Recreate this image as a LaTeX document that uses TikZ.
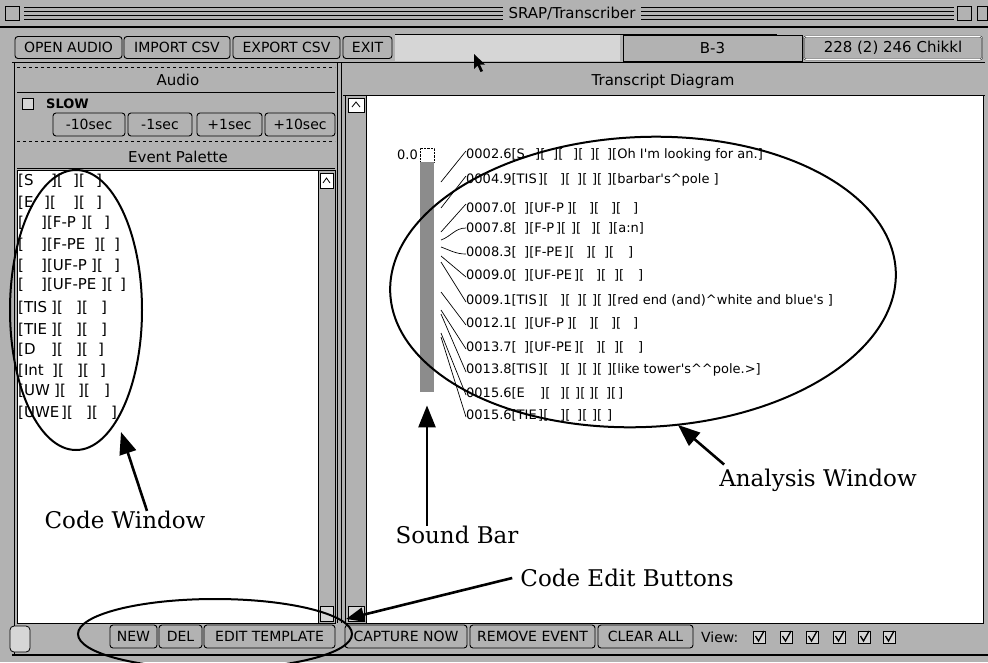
\documentclass[tikz,border=0pt]{standalone}
\usepackage{fontspec}
\setmainfont{DejaVu Serif}
\newfontfamily\uifont{DejaVu Sans}
\usetikzlibrary{arrows.meta}
\definecolor{stip}{gray}{0.70}
\definecolor{stipl}{gray}{0.84}
\definecolor{barc}{gray}{0.55}
\newcommand\tf[2]{\makebox[#1pt][l]{#2}}
\begin{document}
\begin{tikzpicture}[x=1pt,y=-1pt,
  btn/.style={draw, rounded corners=3pt, fill=stip, line width=0.9pt, inner sep=0pt, font=\uifont\fontsize{14}{16}\selectfont},
  hdr/.style={font=\uifont\fontsize{15}{17}\selectfont},
  pal/.style={anchor=west, inner sep=0pt, font=\uifont\fontsize{15}{17}\selectfont},
  trs/.style={anchor=west, inner sep=0pt, font=\uifont\fontsize{13}{15}\selectfont},
  lbl/.style={font=\fontsize{23}{26}\selectfont, inner sep=0pt},
  bigarr/.style={line width=2.6pt, -{Triangle[length=22pt,width=17pt]}},
  conn/.style={line width=0.7pt},
  oval/.style={line width=2pt},
  cbox/.style={draw, fill=stipl, minimum size=12pt, inner sep=0pt, line width=0.8pt}
]
\useasboundingbox (0,0) rectangle (988,662);
\fill[stip] (0,0) rectangle (988,662);

% title bar
\foreach \yy in {7,11,15,19} \draw[line width=0.8pt] (24,\yy) -- (954,\yy);
\node[fill=stip, inner xsep=6pt, inner ysep=2pt, hdr] (title) at (572,13) {SRAP/Transcriber};
\node[draw, line width=0.8pt, minimum size=14pt, inner sep=0pt] (closebox) at (12.5,13) {};
\node[draw, line width=0.8pt, minimum size=14pt, inner sep=0pt] (zoombox) at (964.5,13) {};
\node[draw, line width=0.8pt, minimum width=10pt, minimum height=14pt, inner sep=0pt] (collbox) at (982,13) {};
\draw[line width=1.5pt] (0,27) -- (988,27);

% toolbar
\node[btn, minimum width=107pt, minimum height=22pt] (openaudio) at (68.5,47.5) {OPEN AUDIO};
\node[btn, minimum width=106pt, minimum height=22pt] (importcsv) at (177,47.5) {IMPORT CSV};
\node[btn, minimum width=107pt, minimum height=22pt] (exportcsv) at (286.5,47.5) {EXPORT CSV};
\node[btn, minimum width=49pt, minimum height=22pt] (exitb) at (367.5,47.5) {EXIT};
\fill[stipl] (395,35) rectangle (620,61);
\draw[line width=0.8pt] (395,34) -- (777,34);
\node[draw, minimum width=179pt, minimum height=26pt, inner sep=0pt, hdr] (fieldb) at (712.5,48) {B-3};
\node[draw, double, rounded corners=2pt, minimum width=178pt, minimum height=23pt, inner sep=0pt, hdr] (fieldc) at (893,48) {228 (2) 246 Chikkl};
\fill (474,54) -- (474,69) -- (477.5,65.5) -- (480.5,72) -- (483,71) -- (480,64.5) -- (485,64.5) -- cycle;
\draw[line width=1pt] (12,62) -- (985,62);

% left panel
\draw[line width=1pt] (14,62) -- (14,655);
\draw[dashed] (17,67) -- (335,67);
\draw[line width=1pt] (17,92) -- (335,92);
\node[hdr] (audio) at (178,80) {Audio};
\node[cbox, minimum size=11pt] (slowbox) at (27.5,103.5) {};
\node[anchor=west, inner sep=0pt, font=\uifont\bfseries\fontsize{13}{15}\selectfont] (slow) at (46,104) {SLOW};
\node[btn, minimum width=72pt, minimum height=23pt] (m10) at (89,124.5) {-10sec};
\node[btn, minimum width=64pt, minimum height=23pt] (m1) at (160,124.5) {-1sec};
\node[btn, minimum width=65pt, minimum height=23pt] (p1) at (229.5,124.5) {+1sec};
\node[btn, minimum width=70pt, minimum height=23pt] (p10) at (300,124.5) {+10sec};
\draw[dashed] (17,141) -- (335,141);
\draw[line width=0.6pt] (17,168) -- (335,168);
\node[hdr] (evpal) at (178,157) {Event Palette};
\filldraw[fill=white, line width=0.8pt] (17,170) rectangle (318,623);
\filldraw[fill=stip, line width=0.8pt] (318,170) rectangle (335,623);
\filldraw[fill=white, line width=0.6pt] (320,173) rectangle (333,188);
\draw[line width=0.8pt] (323,183) -- (326.5,178) -- (330,183);
\filldraw[fill=stipl, line width=0.6pt] (320,606) rectangle (333,621);

% palette entries
\node[pal] (pa1) at (18,181) {\tf{33}{[S}\tf{22}{][}\tf{23}{][}]};
\node[pal] (pa2) at (18,203) {\tf{26}{[E}\tf{29}{][}\tf{23}{][}]};
\node[pal] (pa3) at (18,223) {\tf{23}{[}\tf{40}{][F-P}\tf{23}{][}]};
\node[pal] (pa4) at (18,245) {\tf{23}{[}\tf{53}{][F-PE}\tf{20}{][}]};
\node[pal] (pa5) at (18,266) {\tf{23}{[}\tf{50}{][UF-P}\tf{23}{][}]};
\node[pal] (pa6) at (18,285) {\tf{23}{[}\tf{60}{][UF-PE}\tf{19}{][}]};
\node[pal] (pa7) at (18,308) {\tf{33}{[TIS}\tf{25}{][}\tf{25}{][}]};
\node[pal] (pa8) at (18,330) {\tf{33}{[TIE}\tf{25}{][}\tf{25}{][}]};
\node[pal] (pa9) at (18,350) {\tf{33}{[D}\tf{25}{][}\tf{22}{][}]};
\node[pal] (pa10) at (18,371) {\tf{34}{[Int}\tf{25}{][}\tf{23}{][}]};
\node[pal] (pa11) at (18,391) {\tf{36}{[UW}\tf{24}{][}\tf{26}{][}]};
\node[pal] (pa12) at (18,413) {\tf{43}{[UWE}\tf{25}{][}\tf{25}{][}]};

% divider
\draw (337,62) -- (337,623);
\draw (341,62) -- (341,623);

% right panel
\draw[line width=0.8pt] (343,95) -- (985,95);
\node[hdr] (tdiag) at (663,81) {Transcript Diagram};
\filldraw[fill=white, line width=0.8pt] (366,95) rectangle (983,623);
\filldraw[fill=stip, line width=0.8pt] (345,95) rectangle (366,623);
\filldraw[fill=white, line width=0.6pt] (348,98) rectangle (364,112);
\draw[line width=0.8pt] (352,107) -- (356,102) -- (360,107);
\filldraw[fill=stipl, line width=0.6pt] (348,606) rectangle (364,621);

% bottom bar
\draw[line width=1.2pt] (12,655) -- (988,655);
\node[draw, rounded corners=4pt, fill=stipl, minimum width=20pt, minimum height=26pt, inner sep=0pt, line width=0.8pt] (grow) at (20,639) {};
\node[btn, minimum width=47pt, minimum height=23pt] (newb) at (133.5,636.5) {NEW};
\node[btn, minimum width=43pt, minimum height=23pt] (delb) at (180.5,636.5) {DEL};
\node[btn, minimum width=131pt, minimum height=23pt] (editb) at (269.5,636.5) {EDIT TEMPLATE};
\node[btn, minimum width=122pt, minimum height=23pt] (captb) at (406,636.5) {CAPTURE NOW};
\node[btn, minimum width=125pt, minimum height=23pt] (remb) at (532.5,636.5) {REMOVE EVENT};
\node[btn, minimum width=95pt, minimum height=23pt] (clrb) at (645.5,636.5) {CLEAR ALL};
\node[anchor=west, inner sep=0pt, font=\uifont\fontsize{14}{16}\selectfont] (view) at (701,637) {View:};
\foreach \cx [count=\i] in {753,780,806,833,858,883} {
  \node[cbox] (cb\i) at (\cx+6,637) {};
  \draw[line width=1.3pt] (\cx+2.5,636) -- (\cx+5.5,641) -- (\cx+11,631);
}

% sound bar
\node[draw, densely dotted, fill=white, minimum width=14pt, minimum height=14pt, inner sep=0pt] (bartop) at (427,155) {};
\node[fill=barc, minimum width=14pt, minimum height=230pt, inner sep=0pt, anchor=north] (sbar) at (427,162) {};
\node[trs, anchor=east] (zero) at (418,155) {0.0};

% transcript lines
\node[trs] (t1) at (466,155) {\tf{69}{0002.6[S}\tf{18}{][}\tf{20}{][}\tf{17}{][}\tf{17}{][}][Oh I'm looking for an.]};
\node[trs] (t2) at (466,180) {\tf{72}{0004.9[TIS}\tf{22}{][}\tf{17}{][}\tf{15}{][}\tf{15}{][}][barbar's\textasciicircum pole ]};
\node[trs] (t3) at (466,208) {\tf{58}{0007.0[}\tf{43}{][UF-P}\tf{22}{][}\tf{22}{][}\tf{22}{][}]};
\node[trs] (t4) at (466,228) {\tf{58}{0007.8[}\tf{32}{][F-P}\tf{15}{][}\tf{20}{][}\tf{17}{][}][a:n]};
\node[trs] (t5) at (466,252) {\tf{58}{0008.3[}\tf{40}{][F-PE}\tf{22}{][}\tf{18}{][}\tf{24}{][}]};
\node[trs] (t6) at (466,275) {\tf{58}{0009.0[}\tf{50}{][UF-PE}\tf{22}{][}\tf{18}{][}\tf{24}{][}]};
\node[trs] (t7) at (466,300) {\tf{72}{0009.1[TIS}\tf{22}{][}\tf{17}{][}\tf{15}{][}\tf{15}{][}][red end (and)\textasciicircum white and blue's ]};
\node[trs] (t8) at (466,323) {\tf{58}{0012.1[}\tf{43}{][UF-P}\tf{22}{][}\tf{22}{][}\tf{22}{][}]};
\node[trs] (t9) at (466,347) {\tf{58}{0013.7[}\tf{50}{][UF-PE}\tf{22}{][}\tf{18}{][}\tf{24}{][}]};
\node[trs] (t10) at (466,370) {\tf{72}{0013.8[TIS}\tf{22}{][}\tf{17}{][}\tf{15}{][}\tf{15}{][}][like tower's\textasciicircum\textasciicircum pole.>]};
\node[trs] (t11) at (466,393) {\tf{74}{0015.6[E}\tf{20}{][}\tf{15}{][}\tf{14}{][}\tf{17}{][}\tf{12}{][}]};
\node[trs] (t12) at (466,415) {\tf{72}{0015.6[TIE}\tf{22}{][}\tf{17}{][}\tf{15}{][}\tf{15}{][}]};

% connectors from sound bar
\coordinate (b1) at (441,182);
\coordinate (b2) at (441,208);
\coordinate (b3) at (441,232);
\coordinate (b4) at (441,240);
\coordinate (b5) at (441,247);
\coordinate (b6) at (441,256);
\coordinate (b7) at (441,262);
\coordinate (b8) at (441,292);
\coordinate (b9) at (441,310);
\coordinate (b10) at (441,314);
\coordinate (b11) at (441,333);
\coordinate (b12) at (441,337);
\draw[conn] (b1) -- ([yshift=4pt]t1.west);
\draw[conn] (b2) -- ([yshift=4pt]t2.west);
\draw[conn] (b3) -- ([yshift=4pt]t3.west);
\draw[conn] (b4) to[out=20,in=180] (t4.west);
\draw[conn] (b5) to[out=-20,in=180] ([yshift=-2pt]t5.west);
\draw[conn] (b6) -- ([yshift=-2pt]t6.west);
\draw[conn] (b7) -- ([yshift=-2pt]t7.west);
\draw[conn] (b8) -- ([yshift=-2pt]t8.west);
\draw[conn] (b9) -- ([yshift=-2pt]t9.west);
\draw[conn] (b10) -- ([yshift=-2pt]t10.west);
\draw[conn] (b11) -- ([yshift=-2pt]t11.west);
\draw[conn] (b12) -- ([yshift=-2pt]t12.west);

% ovals
\draw[oval] (76,310) ellipse [x radius=66pt, y radius=140pt];
\draw[oval, rotate around={2.5:(643,282)}] (643,282) ellipse [x radius=253pt, y radius=145pt];
\begin{scope}
\clip (0,0) rectangle (988,662);
\draw[oval] (215,634) ellipse [x radius=137pt, y radius=35pt];
\end{scope}

% labels and arrows
\node[lbl] (cw) at (125,520) {Code Window};
\coordinate (cwtip) at (121,432);
\draw[bigarr] ([xshift=22pt]cw.north) -- (cwtip);

\node[lbl] (sb) at (457,535) {Sound Bar};
\draw[bigarr] ([xshift=-30pt]sb.north) -- ([yshift=-13pt]sbar.south);

\node[lbl] (aw) at (818,480) {Analysis Window};
\coordinate (awtip) at (678,425);
\draw[bigarr] ([xshift=5pt,yshift=4pt]aw.north west) -- (awtip);

\node[lbl] (ceb) at (627,578) {Code Edit Buttons};
\coordinate (cebtip) at (346,619);
\draw[line width=2.6pt, -{Triangle[length=18pt,width=14pt]}] ([xshift=-8pt]ceb.west) -- (cebtip);
\end{tikzpicture}
\end{document}
